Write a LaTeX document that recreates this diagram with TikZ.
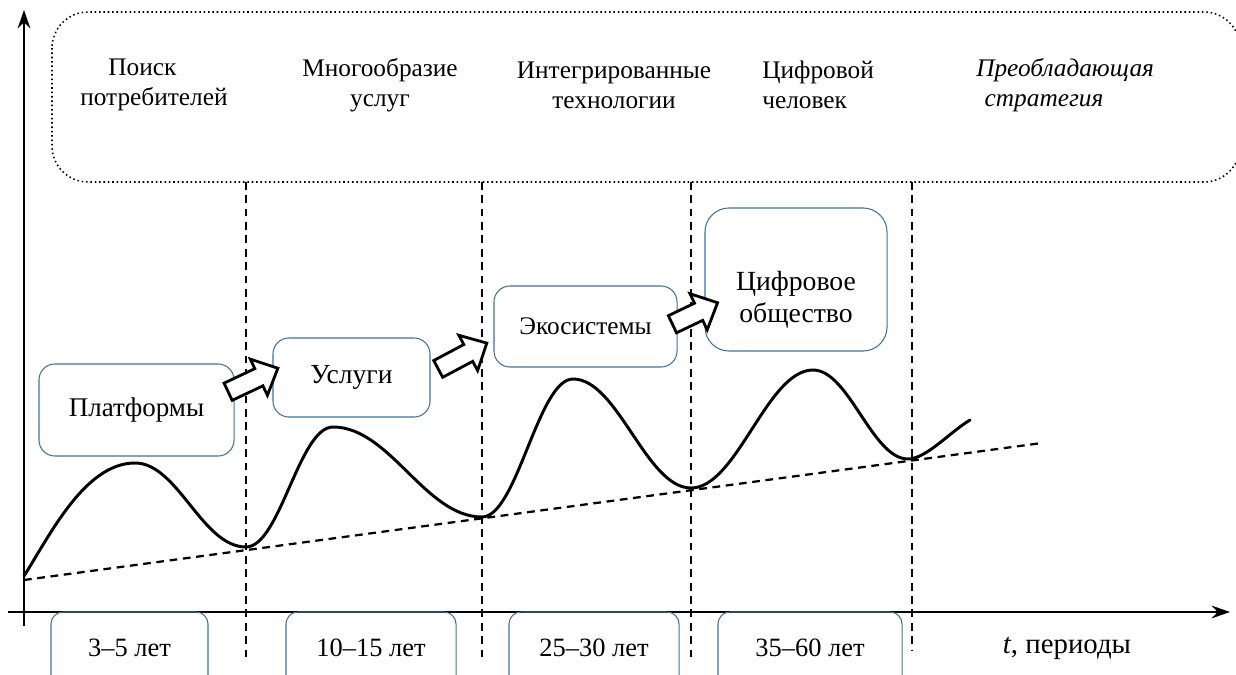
\documentclass[tikz,border=0pt]{standalone}
\usepackage{fontspec}
\setmainfont{Liberation Serif}
\usetikzlibrary{arrows.meta}
\definecolor{boxblue}{RGB}{65,113,156}
\tikzset{
  lbl/.style={font=\fontsize{19.2}{21.5}\selectfont, align=center, inner sep=0pt},
  toplbl/.style={font=\fontsize{18}{21.5}\selectfont, inner sep=0pt},
  bbox/.style={draw=boxblue, line width=0.75pt, rounded corners=0.4cm, inner sep=0pt},
  vdash/.style={line width=1.6pt, dash pattern=on 5.5pt off 4pt},
  trend/.style={line width=1.6pt, dash pattern=on 5.5pt off 4pt},
  axis/.style={line width=1.7pt, -{Stealth[length=13pt,width=9pt]}},
  wave/.style={line width=2.1pt, line cap=round},
  blk/.style={draw, line width=2pt, fill=white, line join=miter}
}
\newcommand\blkarrow[4]{% x y angle length
  \draw[blk, shift={(#1,#2)}, rotate=#3]
    (-#4/2,-9.5) -- (#4/2-21,-9.5) -- (#4/2-21,-20) -- (#4/2,0)
    -- (#4/2-21,20) -- (#4/2-21,9.5) -- (-#4/2,9.5) -- cycle;
}
\begin{document}
\begin{tikzpicture}[x=0.025cm,y=-0.025cm]
\useasboundingbox (0,0) rectangle (1236,675);
\clip (0,0) rectangle (1236,675);

% top dotted box
\draw[dotted, line width=1.1pt, rounded corners=0.9cm] (52,12) rectangle (1240,182);
\node[toplbl, align=left, anchor=west] (s1) at (80,85) {\hspace*{20pt}Поиск\\потребителей};
\node[toplbl, align=center] (s2) at (380,85) {Многообразие\\услуг};
\node[toplbl, align=center] (s3) at (614,85) {Интегрированные\\технологии};
\node[toplbl, align=left, anchor=west] (s4) at (762,85) {Цифровой\\человек};
\node[toplbl, align=left, anchor=west, font=\fontsize{18}{21.5}\selectfont\itshape] (s5) at (976,85) {Преобладающая\\\hspace*{6pt}стратегия};

% vertical dashed separators
\foreach \x/\b in {246/662, 482/662, 691/658, 912/650}{
  \coordinate (t\x) at (\x,182);
  \coordinate (b\x) at (\x,\b);
  \draw[vdash] (t\x) -- (b\x);
}

% axes
\coordinate (xa0) at (8,612);
\coordinate (xa1) at (1230,612);
\coordinate (ya0) at (24,626);
\coordinate (ya1) at (24,10);
\draw[axis] (xa0) -- (xa1);
\draw[axis] (ya0) -- (ya1);

% bottom boxes
\node[bbox, rounded corners=0.3cm, minimum width=3.925cm, minimum height=1.95cm] (p1) at (129.5,651) {};
\node[bbox, rounded corners=0.3cm, minimum width=4.25cm, minimum height=1.95cm] (p2) at (371,651) {};
\node[bbox, rounded corners=0.3cm, minimum width=4.25cm, minimum height=1.95cm] (p3) at (594,651) {};
\node[bbox, rounded corners=0.3cm, minimum width=4.6cm, minimum height=1.95cm] (p4) at (810,651) {};
\node[lbl, font=\fontsize{18.8}{21.5}\selectfont] (l1) at (129.5,648) {3–5 лет};
\node[lbl, font=\fontsize{18.8}{21.5}\selectfont] (l2) at (371,648) {10–15 лет};
\node[lbl, font=\fontsize{18.8}{21.5}\selectfont] (l3) at (594,648) {25–30 лет};
\node[lbl, font=\fontsize{18.8}{21.5}\selectfont] (l4) at (810,648) {35–60 лет};
\node[lbl, font=\fontsize{20.5}{22}\selectfont] (tl) at (1067,648) {\textit{t}, периоды};

% trend line
\coordinate (tr0) at (24,580);
\coordinate (tr1) at (1042,443);
\draw[trend] (tr0) -- (tr1);

% wave
\draw[wave] (24,576)
  .. controls (50,535) and (85,463) .. (135,463)
  .. controls (178,463) and (202,547) .. (246,547)
  .. controls (280,547) and (299,427) .. (333,427)
  .. controls (390,427) and (425,517) .. (482,517)
  .. controls (517,517) and (538,379) .. (573,379)
  .. controls (618,379) and (646,488) .. (691,488)
  .. controls (737,488) and (767,370) .. (813,370)
  .. controls (849,370) and (872,459) .. (908,459)
  .. controls (926,459) and (950,432) .. (970,420);

% stage boxes
\node[bbox, fill=white, minimum width=4.875cm, minimum height=2.3cm] (b1) at (136.5,410) {};
\node[lbl] at (b1) {Платформы};
\node[bbox, fill=white, minimum width=3.925cm, minimum height=1.975cm] (b2) at (351.5,377.5) {};
\node[lbl, font=\fontsize{19.6}{21.5}\selectfont] at (b2) {Услуги};
\node[bbox, fill=white, minimum width=4.575cm, minimum height=2.025cm] (b3) at (585.5,326.5) {};
\node[lbl, font=\fontsize{18}{21.5}\selectfont] at (b3) {Экосистемы};
\node[bbox, fill=white, rounded corners=0.6cm, minimum width=4.55cm, minimum height=3.575cm] (b4) at (796,279.5) {};
\node[lbl, font=\fontsize{19.7}{22.5}\selectfont] at (796,300) {Цифровое\\общество};

% block arrows
\blkarrow{253}{380}{25.3}{55}
\blkarrow{462.5}{356}{28}{55}
\blkarrow{695}{313.5}{25.5}{50}
\end{tikzpicture}
\end{document}
